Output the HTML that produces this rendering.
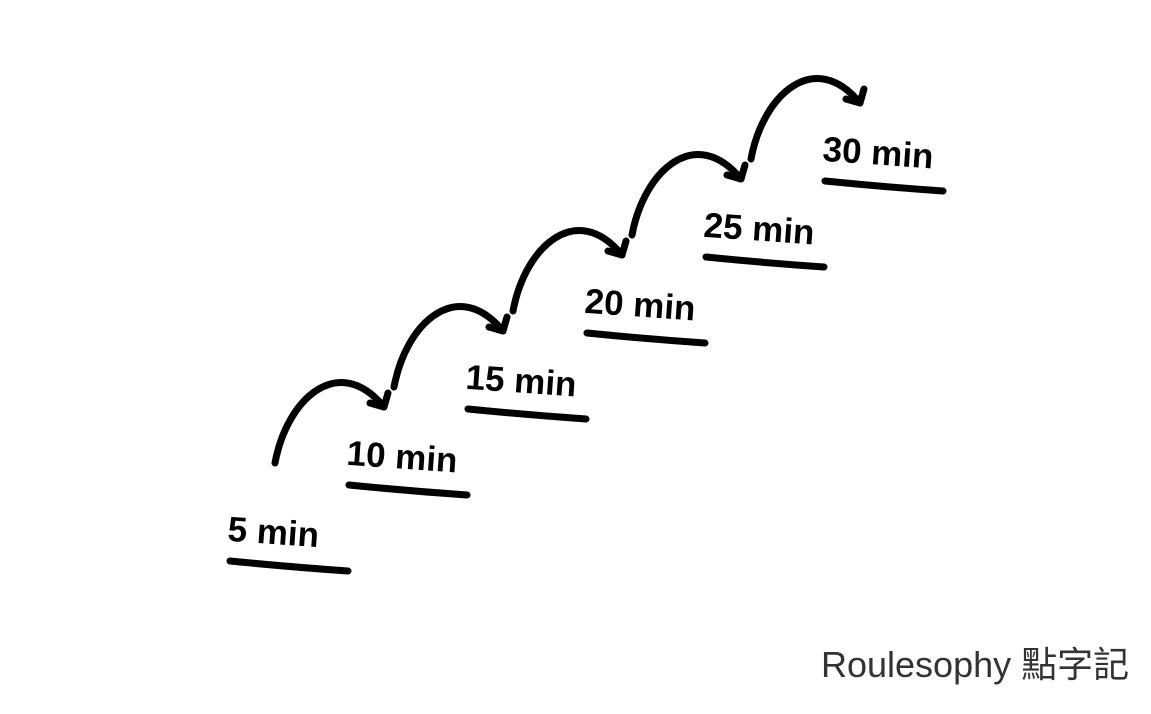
<!DOCTYPE html>
<html>
<head>
<meta charset="utf-8">
<style>
  html,body{margin:0;padding:0;background:#fff;}
  body{width:1151px;height:714px;overflow:hidden;position:relative;}
  svg{position:absolute;left:0;top:0;}
  .wm{position:absolute;left:821px;top:636px;font-family:"Liberation Sans","Noto Sans CJK TC",sans-serif;font-size:36px;color:#333;font-weight:normal;white-space:nowrap;}
</style>
</head>
<body>
<svg id="chart" width="1151" height="714"></svg>
<div class="wm">Roulesophy 點字記</div>
<script>
const labels = ['5 min','10 min','15 min','20 min','25 min','30 min'];
const values = [5,10,15,20,25,30];

const NS='http://www.w3.org/2000/svg';
const svg=document.getElementById('chart');
function xScale(v){return 230 + (v-5)/5*119;}
function yScale(v){return 565 - (v-5)/5*76;}

function mk(tag,attrs){const e=document.createElementNS(NS,tag);for(const k in attrs)e.setAttribute(k,attrs[k]);svg.appendChild(e);return e;}

values.forEach((v,i)=>{
  const x=xScale(v), u=yScale(v);
  const line=mk('path',{d:`M${x} ${u-4} Q${x+60} ${u+2} ${x+118} ${u+6}`,stroke:'#000','stroke-width':7,fill:'none','stroke-linecap':'round'});
  
  
  const t=mk('text',{x:x-3,y:u-24,'font-family':'Liberation Sans, sans-serif','font-size':35,'font-weight':'bold','letter-spacing':'0',fill:'#000',transform:`rotate(4 ${x} ${u-24})`});
  t.textContent=labels[i];
  
  
  if(i<values.length-1){
    const x1=xScale(values[i+1]), u1=yScale(values[i+1]);
    const sx=x+45, sy=u-102, ex=x1+35, ey=u1-82;
    const arc=mk('path',{d:`M${sx} ${sy} C${sx+12} ${sy-65} ${ex-45} ${ey-55} ${ex} ${ey}`,stroke:'#000','stroke-width':7,fill:'none','stroke-linecap':'round'});
    
    
    const head=mk('path',{d:`M${ex-14} ${ey-4} L${ex} ${ey} L${ex+4} ${ey-14}`,stroke:'#000','stroke-width':7,fill:'none','stroke-linecap':'round','stroke-linejoin':'round'});
    
    
  }
});
</script>
</body>
</html>
